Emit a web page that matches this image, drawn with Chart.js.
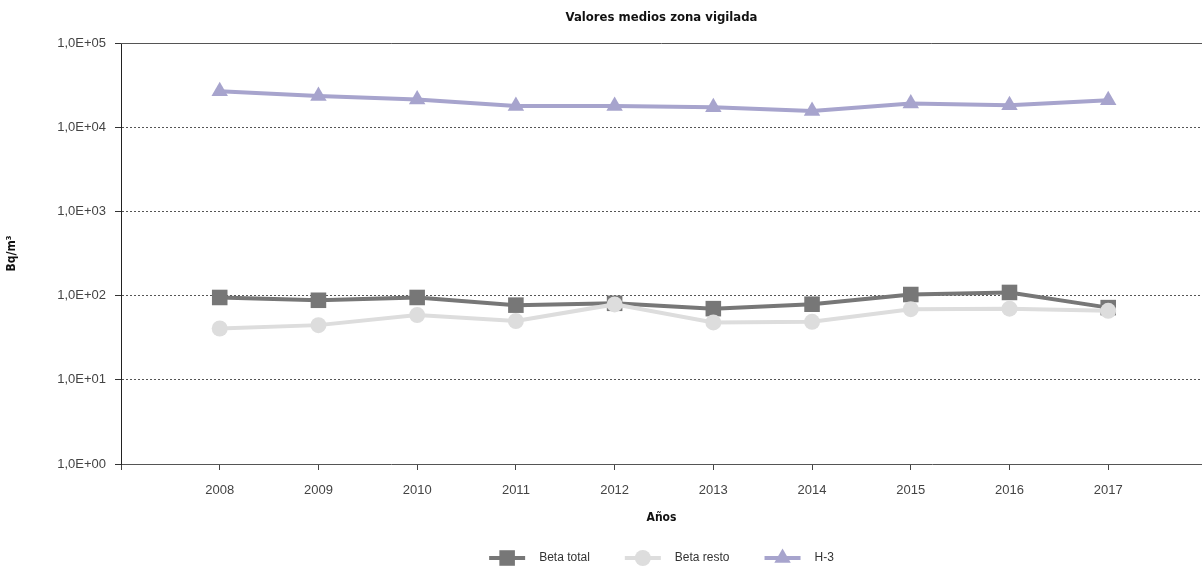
<!DOCTYPE html>
<html lang="es">
<head>
<meta charset="utf-8">
<title>Valores medios zona vigilada</title>
<script src="https://cdn.jsdelivr.net/npm/chart.js@4.4.0/dist/chart.umd.min.js"></script>
<style>
  html, body { margin: 0; padding: 0; background: #fff; overflow: hidden; }
  #wrap { position: relative; width: 1202px; height: 569px; }
  #grafico { display: block; }
</style>
</head>
<body>
<div id="wrap"><canvas id="grafico"></canvas></div>
<script>
// Datos (Bq/m3)
const anios = [2008, 2009, 2010, 2011, 2012, 2013, 2014, 2015, 2016, 2017];
const betaTotal = [95, 88, 95, 77, 81, 70, 79, 103, 109, 72];
const betaResto = [40.7, 44.6, 58.7, 49.8, 78.6, 48, 48.8, 69, 70, 66];
const h3 = [26800, 23400, 21300, 17900, 17800, 17300, 15600, 19100, 18200, 20900];
const ticksY = [1, 10, 100, 1000, 10000, 100000];

const FUENTE = '"Liberation Sans", Arial, sans-serif';
const FUENTE_NEGRITA = '"Liberation Sans Narrow", "DejaVu Sans Condensed", "Liberation Sans", sans-serif';

function fmtExp(v){
  // 100 -> "1,0E+02"
  const [m, e] = Number(v).toExponential(1).split('e');
  const exp = Number(e);
  return m.replace('.', ',') + 'E' + (exp < 0 ? '-' : '+') + String(Math.abs(exp)).padStart(2, '0');
}

function serie(valores){
  return anios.map((a, i) => ({ x: a, y: valores[i] }));
}

/* --------- Linea superior del area --------- */
const bordeSuperior = {
  id: 'bordeSuperior',
  afterDraw(chart){
    const { ctx, chartArea } = chart;
    ctx.save();
    ctx.strokeStyle = '#555';
    ctx.lineWidth = 1;
    ctx.beginPath();
    ctx.moveTo(chartArea.left, chartArea.top + 0.5);
    ctx.lineTo(chartArea.right, chartArea.top + 0.5);
    ctx.stroke();
    ctx.restore();
  }
};

/* --------- Leyenda (linea + marcador) --------- */
function marcador(ctx, estilo, r, x, y){
  ctx.beginPath();
  if (estilo === 'rect'){
    const s = r * Math.SQRT1_2;
    ctx.rect(x - s, y - s, 2 * s, 2 * s);
  } else if (estilo === 'triangle'){
    ctx.moveTo(x, y - r);
    ctx.lineTo(x + r * 0.866, y + r * 0.5);
    ctx.lineTo(x - r * 0.866, y + r * 0.5);
    ctx.closePath();
  } else {
    ctx.arc(x, y, r, 0, Math.PI * 2);
  }
  ctx.fill();
}

const leyenda = {
  id: 'leyenda',
  afterDraw(chart){
    const { ctx, chartArea } = chart;
    const y = 558;
    const largoLinea = 36, hueco = 14, separacion = 35;
    ctx.save();
    ctx.font = '12px ' + FUENTE;
    const items = chart.data.datasets.map(ds => ({ ds, w: largoLinea + hueco + ctx.measureText(ds.label).width }));
    const total = items.reduce((s, it) => s + it.w, 0) + separacion * (items.length - 1);
    let x = (chartArea.left + chartArea.right) / 2 - total / 2;
    items.forEach(({ ds, w }) => {
      ctx.strokeStyle = ds.borderColor;
      ctx.lineWidth = ds.borderWidth;
      ctx.beginPath();
      ctx.moveTo(x, y);
      ctx.lineTo(x + largoLinea, y);
      ctx.stroke();
      ctx.fillStyle = ds.pointBackgroundColor;
      marcador(ctx, ds.pointStyle, ds.pointRadius, x + largoLinea / 2, y);
      ctx.fillStyle = '#333';
      ctx.textBaseline = 'middle';
      ctx.fillText(ds.label, x + largoLinea + hueco, y);
      x += w + separacion;
    });
    ctx.restore();
  }
};

window.addEventListener('DOMContentLoaded', () => {
  const ctx = document.getElementById('grafico').getContext('2d');
  new Chart(ctx, {
    type: 'line',
    data: {
      datasets: [
        {
          label: 'Beta total', data: serie(betaTotal), order: 2,
          borderColor: '#777777', backgroundColor: '#777777', pointBackgroundColor: '#777777',
          borderWidth: 4, pointStyle: 'rect', pointRadius: 11, pointBorderWidth: 0
        },
        {
          label: 'Beta resto', data: serie(betaResto), order: 1,
          borderColor: '#dddddd', backgroundColor: '#dddddd', pointBackgroundColor: '#dddddd',
          borderWidth: 4, pointStyle: 'circle', pointRadius: 8, pointBorderWidth: 0
        },
        {
          label: 'H-3', data: serie(h3), order: 0,
          borderColor: '#a7a4cd', backgroundColor: '#a7a4cd', pointBackgroundColor: '#a7a4cd',
          borderWidth: 4, pointStyle: 'triangle', pointRadius: 9.5, pointBorderWidth: 0
        }
      ]
    },
    options: {
      responsive: true,
      maintainAspectRatio: false,
      animation: false,
      events: [],
      layout: { autoPadding: false, padding: { top: 0, right: 0, bottom: 35, left: 0 } },
      plugins: {
        legend: { display: false },
        tooltip: { enabled: false },
        title: {
          display: true,
          text: 'Valores medios zona vigilada',
          fullSize: false,
          color: '#111',
          font: { family: FUENTE_NEGRITA, size: 13, weight: 'bold' },
          padding: { top: 9.5, bottom: 17.9 }
        }
      },
      scales: {
        x: {
          type: 'linear',
          min: 2007,
          max: 2017.95,
          afterFit: (s) => { s.height = 70; s.paddingLeft = 0; s.paddingRight = 0; },
          ticks: {
            stepSize: 1,
            includeBounds: false,
            autoSkip: false,
            maxRotation: 0,
            padding: 13,
            color: '#444',
            font: { family: FUENTE, size: 13 },
            callback: (v) => (v === 2007 ? '' : String(v))
          },
          grid: { drawOnChartArea: false, drawTicks: true, tickLength: 6, tickColor: '#444' },
          border: { color: '#555', width: 1 },
          title: {
            display: true,
            text: 'Años',
            color: '#111',
            font: { family: FUENTE_NEGRITA, size: 12, weight: 'bold' },
            padding: { top: 4, bottom: 8.5 }
          }
        },
        y: {
          type: 'logarithmic',
          min: 1,
          max: 100000,
          afterFit: (s) => { s.width = 121; s.paddingTop = 0; s.paddingBottom = 0; },
          afterBuildTicks: (s) => { s.ticks = ticksY.map(v => ({ value: v })); },
          ticks: {
            padding: 9,
            color: '#444',
            font: { family: FUENTE, size: 13 },
            callback: (v) => fmtExp(v)
          },
          grid: {
            color: (c) => (c.tick && (c.tick.value === 100000 || c.tick.value === 1) ? 'rgba(0,0,0,0)' : '#555'),
            lineWidth: 1,
            tickLength: 6,
            tickColor: '#333'
          },
          border: { color: '#222', width: 1, dash: [2, 2] },
          title: {
            display: true,
            text: 'Bq/m³',
            color: '#111',
            font: { family: FUENTE_NEGRITA, size: 12, weight: 'bold' },
            padding: { top: 5, bottom: 4 }
          }
        }
      }
    },
    plugins: [bordeSuperior, leyenda]
  });
});
</script>
</body>
</html>
